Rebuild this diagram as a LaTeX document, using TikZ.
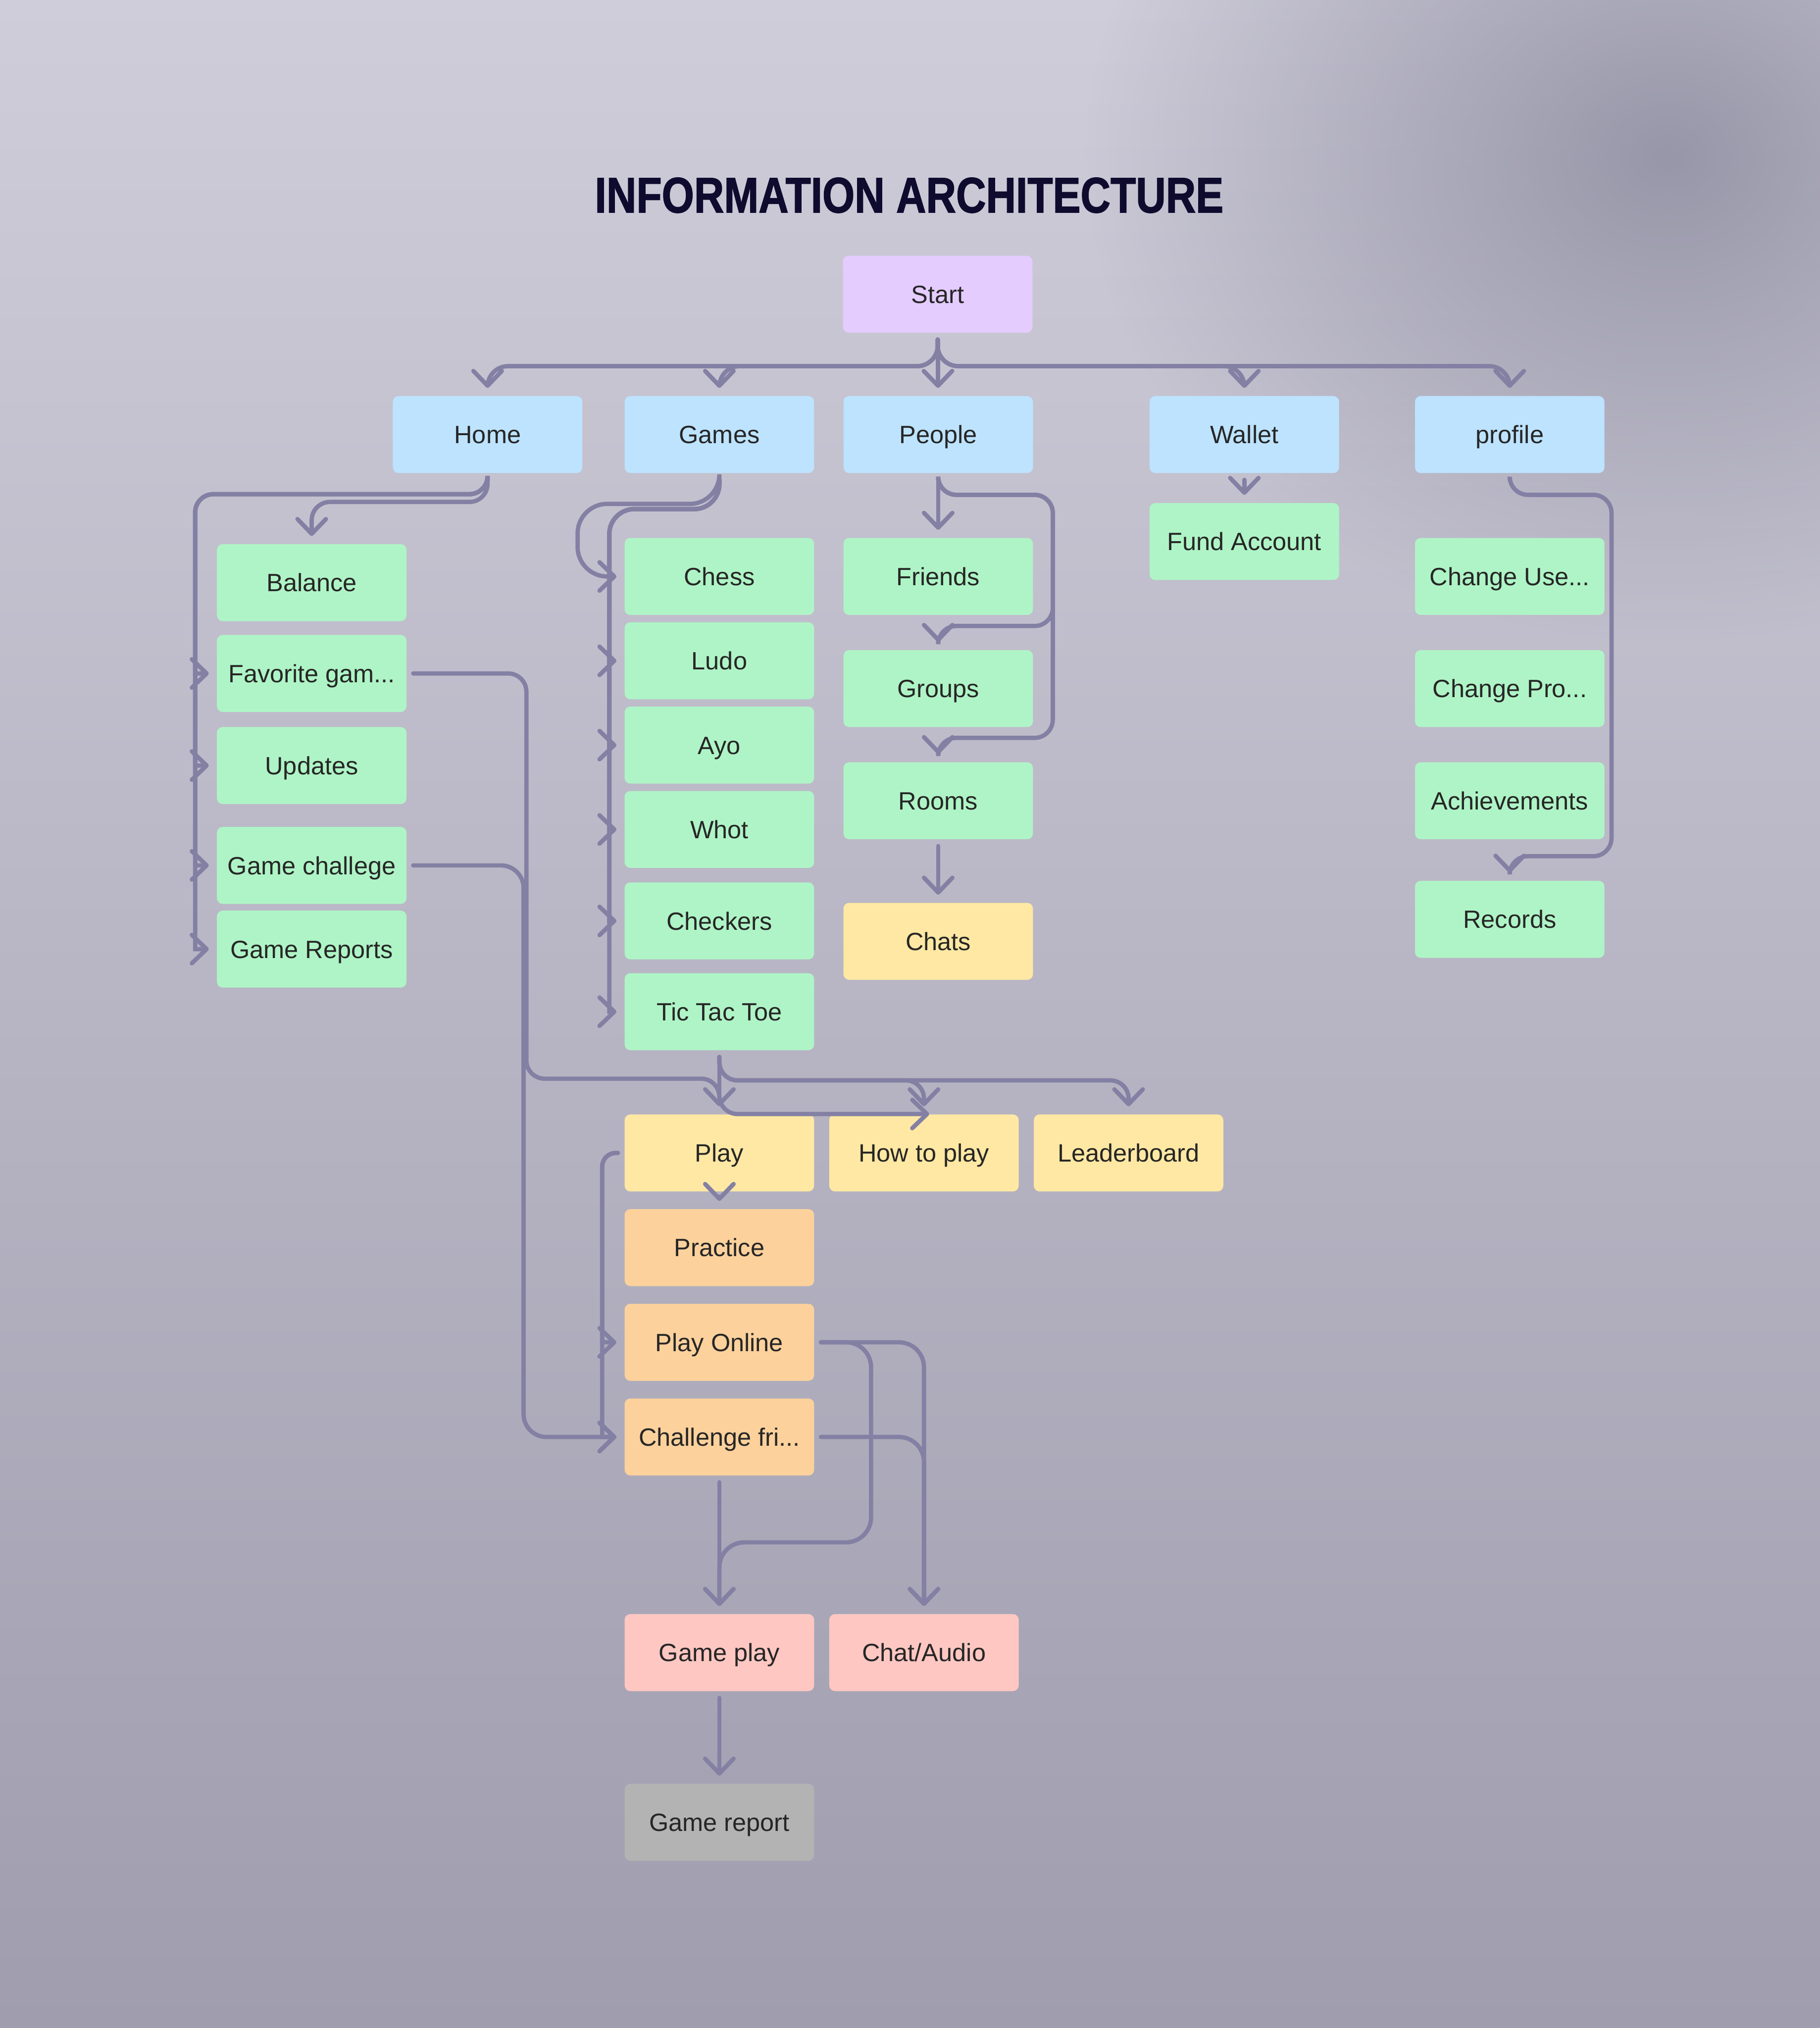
\documentclass[tikz,border=0pt]{standalone}
\usepackage{fontspec}
\setmainfont{Liberation Sans}
\newfontfamily\titlefont{Liberation Sans}[FakeStretch=0.83, FakeBold=1.4]
\usepackage{tikz}
\usetikzlibrary{positioning, calc, arrows.meta, fadings}
\definecolor{bgtop}{HTML}{CFCDD9}
\definecolor{bgbottom}{HTML}{9F9DAE}
\definecolor{haze}{HTML}{9291A4}
\definecolor{wire}{HTML}{8480A4}
\definecolor{ink}{HTML}{0E0B2E}
\definecolor{lilac}{HTML}{E4CCFF}
\definecolor{sky}{HTML}{BDE3FF}
\definecolor{mint}{HTML}{AFF4C6}
\definecolor{butter}{HTML}{FFE8A3}
\definecolor{peach}{HTML}{FCD19C}
\definecolor{blush}{HTML}{FFC7C2}
\definecolor{ash}{HTML}{B3B3B3}
\tikzfading[name=hazefade, inner color=transparent!0, outer color=transparent!100]

\begin{document}
\begin{tikzpicture}[>={Straight Barb[round, length=6.5pt, width=12.5pt]},
    block/.style={rectangle, rounded corners=2.5pt, minimum width=2.93cm, minimum height=1.19cm, inner sep=2pt, text height=8.9pt, text depth=1pt, align=center, font=\fontsize{11}{13}\selectfont, text=black!85},
    hub/.style={block, fill=lilac},
    section/.style={block, fill=sky},
    leaf/.style={block, fill=mint},
    note/.style={block, fill=butter},
    mode/.style={block, fill=peach},
    session/.style={block, fill=blush},
    summary/.style={block, fill=ash},
    link/.style={draw=wire, line width=1.9pt, line cap=round, rounded corners=8pt, ->, shorten <=2.8pt, shorten >=3.4pt}]

% Background
\useasboundingbox (0,0) rectangle (28.14,-31.36);
\shade[top color=bgtop, bottom color=bgbottom] (0,0) rectangle (28.14,-31.36);
\fill[haze, path fading=hazefade, fill opacity=0.9] (25.8,-2.4) ellipse (9cm and 7.5cm);

\node[text=ink, font=\titlefont\fontsize{22}{26}\selectfont\bfseries] (title) at (14.06,-3.02) {INFORMATION ARCHITECTURE};

% Row 1
\node[hub] (start) at (14.5,-4.55) {Start};
\node[section] (home) at (7.54,-6.72) {Home};
\node[section, right=0.64cm of home] (games) {Games};
\node[section, right=0.44cm of games] (people) {People};
\node[section, right=1.79cm of people] (wallet) {Wallet};
\node[section, right=1.16cm of wallet] (profile) {profile};

% Home column
\node[leaf] (balance) at (4.82,-9.01) {Balance};
\node[leaf, below=0.2cm of balance] (favgames) {Favorite gam...};
\node[leaf, below=0.22cm of favgames] (updates) {Updates};
\node[leaf, below=0.34cm of updates] (challenge) {Game challege};
\node[leaf, below=0.09cm of challenge] (reports) {Game Reports};

% Games column
\node[leaf, below=0.99cm of games] (chess) {Chess};
\node[leaf, below=0.1cm of chess] (ludo) {Ludo};
\node[leaf, below=0.1cm of ludo] (ayo) {Ayo};
\node[leaf, below=0.1cm of ayo] (whot) {Whot};
\node[leaf, below=0.21cm of whot] (checkers) {Checkers};
\node[leaf, below=0.2cm of checkers] (tictactoe) {Tic Tac Toe};

% People, Wallet and profile columns
\node[leaf, below=0.99cm of people] (friends) {Friends};
\node[leaf, below=0.53cm of friends] (groups) {Groups};
\node[leaf, below=0.53cm of groups] (rooms) {Rooms};
\node[note, below=0.97cm of rooms] (chats) {Chats};
\node[leaf, below=0.45cm of wallet] (fund) {Fund Account};
\node[leaf, below=0.99cm of profile] (username) {Change Use...};
\node[leaf, below=0.53cm of username] (picture) {Change Pro...};
\node[leaf, below=0.53cm of picture] (achievements) {Achievements};
\node[leaf, below=0.63cm of achievements] (records) {Records};

% Play flow
\node[note, below=0.98cm of tictactoe] (play) {Play};
\node[note, right=0.22cm of play] (howto) {How to play};
\node[note, right=0.22cm of howto] (leaderboard) {Leaderboard};
\node[mode, below=0.26cm of play] (practice) {Practice};
\node[mode, below=0.26cm of practice] (online) {Play Online};
\node[mode, below=0.26cm of online] (friendmatch) {Challenge fri...};
\node[session, below=2.13cm of friendmatch] (gameplay) {Game play};
\node[session, right=0.22cm of gameplay] (chataudio) {Chat/Audio};
\node[summary, below=1.42cm of gameplay] (report) {Game report};

% rails
\coordinate (homebar) at ($(home.south)+(0,-0.32)$);
\coordinate (homerail) at ($(balance.west)+(-0.33,0)$);
\coordinate (gamesbar) at ($(games.south)+(0,-0.55)$);
\coordinate (gamesrail) at ($(chess.west)+(-0.23,0)$);
\coordinate (playrail) at ($(play.west)+(-0.34,0)$);

% Start to sections
\foreach \sec in {home,games,wallet,profile}
  \draw[link, rounded corners=9pt] (start.south) -- ++(0,-0.51) -| (\sec.north);
\draw[link] (start) -- (people);

% Home
\draw[link] (home.south) -- ++(0,-0.44) -| (balance.north);
\foreach \entry in {favgames,updates,challenge,reports}
  \draw[link] (home.south) -- (homebar) -- (homebar -| homerail) [sharp corners] -- (homerail |- \entry.west) -- (\entry.west);

% Games
\draw[link, rounded corners=13pt] (games.south) -- ++(0,-0.47) -| ($(chess.west)+(-0.72,0)$) -- (chess.west);
\foreach \entry in {ludo,ayo,whot,checkers,tictactoe}
  \draw[link, rounded corners=11pt] (games.south) -- (gamesbar) -- (gamesbar -| gamesrail) [sharp corners] -- (gamesrail |- \entry.west) -- (\entry.west);

% People
\draw[link] (people) -- (friends);
\draw[link] (people.south) -- ++(0,-0.33) -| (16.28,-9.68) -| (groups.north);
\draw[link] (people.south) -- ++(0,-0.33) -| (16.28,-11.41) -| (rooms.north);
\draw[link] (rooms) -- (chats);

% Wallet and profile
\draw[link] (wallet) -- (fund);
\draw[link] (profile.south) -- ++(0,-0.33) -| (24.92,-13.24) -| (records.north);

% Into the play flow
\draw[link] (tictactoe) -- (play);
\foreach \entry in {howto,leaderboard}
  \draw[link] (tictactoe.south) -- ++(0,-0.46) -| (\entry.north);
\draw[link] (favgames.east) -| (8.14,-16.68) -| (play.north) -- ($(howto.north)+(0.2,0)$);
\draw[link, rounded corners=10pt] (challenge.east) -| ($(friendmatch.west)+(-1.555,0)$) -- (friendmatch.west);

\draw[link] (play) -- (practice);
\foreach \entry in {online,friendmatch}
  \draw[link, rounded corners=6pt] (play.west) -- (playrail) [sharp corners] -- (playrail |- \entry.west) -- (\entry.west);

% Sessions
\draw[link, rounded corners=11pt] (online.east) -| (13.47,-23.85) -| (gameplay.north);
\draw[link, rounded corners=11pt] (online.east) -| (chataudio.north);
\draw[link, rounded corners=11pt] (friendmatch.east) -| (chataudio.north);
\draw[link] (friendmatch) -- (gameplay);
\draw[link] (gameplay) -- (report);
\end{tikzpicture}
\end{document}
